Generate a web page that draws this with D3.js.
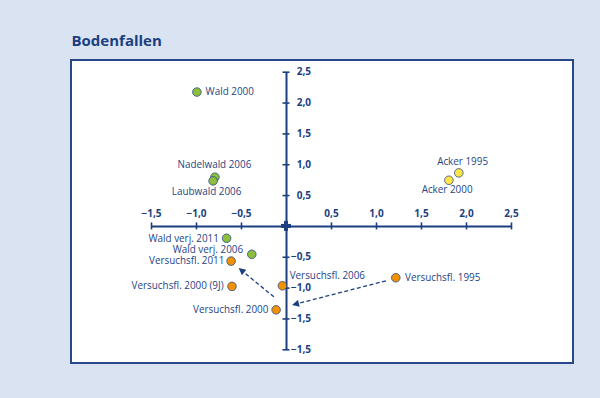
<!DOCTYPE html>
<html><head><meta charset="utf-8">
<script src="https://cdn.jsdelivr.net/npm/d3@7"></script>
<style>
html,body{margin:0;padding:0;background:#dae3f1;}
svg{display:block;}
</style></head>
<body>
<svg id="c" width="600" height="398"></svg>
<script>
// ---- data ----
const names = ["Wald 2000","Nadelwald 2006","Laubwald 2006","Acker 1995","Acker 2000",
  "Wald verj. 2011","Wald verj. 2006","Versuchsfl. 2011","Versuchsfl. 2000 (9J)",
  "Versuchsfl. 2006","Versuchsfl. 2000","Versuchsfl. 1995"];
const xVals = [-0.99,-0.79,-0.81,1.92,1.81,-0.66,-0.38,-0.61,-0.60,-0.04,-0.11,1.22];
const yVals = [2.17,0.79,0.73,0.86,0.74,-0.20,-0.46,-0.57,-0.98,-0.97,-1.36,-0.84];
const groups = ["Wald","Wald","Wald","Acker","Acker","Wald","Wald","Versuchsfl","Versuchsfl","Versuchsfl","Versuchsfl","Versuchsfl"];
const xTickValues = [-1.5,-1,-0.5,0.5,1,1.5,2,2.5];
const xTickLabels = ["−1,5","−1,0","−0,5","0,5","1,0","1,5","2,0","2,5"];
const yTickValues = [2.5,2,1.5,1,0.5,-0.5,-1,-1.5,-2];
const yTickLabels = ["2,5","2,0","1,5","1,0","0,5","−0,5","−1,0","−1,5","−1,5"];
const arrowFrom = [[1.11,-0.89],[-0.135,-1.15]];
const arrowTo = [[0.075,-1.28],[-0.52,-0.69]];

// ---- styling / placement ----
const colors = {Wald:"#8dbf3c", Acker:"#ffe545", Versuchsfl:"#f39200"};
const labelPos = [
  ["start",8.7,3.3],["middle",-0.5,-9],["middle",-6.5,14],["middle",3.8,-7.7],["middle",-1.8,12.7],
  ["end",-7.7,3.4],["end",-8.7,-1],["end",-6.7,3.3],["end",-8.4,3],
  ["start",7.3,-6.8],["end",-7.7,3.3],["start",9.3,3]
];
const navy = "#1b3f7f";
const textCol = "#1f4485";
const font = "'Open Sans', sans-serif";

const svg = d3.select("#c");
svg.append("rect").attr("width",600).attr("height",398).attr("fill","#dae3f1");
svg.append("text").attr("x",71.5).attr("y",45.5).attr("font-family",font).attr("font-weight",700)
  .attr("font-size",15).attr("fill",navy).text("Bodenfallen");
svg.append("rect").attr("x",71).attr("y",60).attr("width",502).attr("height",303)
  .attr("fill","#fff").attr("stroke","#27478a").attr("stroke-width",2);

const x = d3.scaleLinear().domain([-1.5,2.5]).range([151,511]);
const y = d3.scaleLinear().domain([-2,2.5]).range([349.3,71.7]);
const x0 = x(0), y0 = y(0);

// x axis
const xa = svg.append("g").attr("transform",`translate(0,${y0})`)
  .call(d3.axisTop(x).tickValues(xTickValues).tickFormat((d,i)=>xTickLabels[i]).tickSizeOuter(0).tickSizeInner(3.5).tickPadding(5.5));
xa.select(".domain").attr("stroke",navy).attr("stroke-width",2);
xa.selectAll(".tick line").attr("stroke",navy).attr("stroke-width",1.6).attr("y1",-3.5).attr("y2",3.5);
xa.selectAll(".tick text").attr("fill",navy).attr("font-family",font).attr("font-weight",700).attr("font-size",10);

// y axis
const ya = svg.append("g").attr("transform",`translate(${x0},0)`)
  .call(d3.axisRight(y).tickValues(yTickValues).tickFormat((d,i)=>yTickLabels[i]).tickSizeOuter(0).tickSizeInner(3.5));
ya.select(".domain").attr("stroke",navy).attr("stroke-width",2);
ya.selectAll(".tick line").attr("stroke",navy).attr("stroke-width",1.6).attr("x1",-3.5).attr("x2",3.5);
ya.selectAll(".tick text").attr("fill",navy).attr("font-family",font).attr("font-weight",700).attr("font-size",10)
  .attr("text-anchor","end").attr("x",25);

// origin cross
svg.append("line").attr("x1",x0-5).attr("x2",x0+5).attr("y1",y0).attr("y2",y0).attr("stroke",navy).attr("stroke-width",4);
svg.append("line").attr("x1",x0).attr("x2",x0).attr("y1",y0-5).attr("y2",y0+5).attr("stroke",navy).attr("stroke-width",4);

// arrows
const defs = svg.append("defs");
defs.append("marker").attr("id","ah").attr("viewBox","0 0 10 10").attr("refX",9).attr("refY",5)
  .attr("markerWidth",11).attr("markerHeight",7).attr("markerUnits","userSpaceOnUse").attr("orient","auto")
  .append("path").attr("d","M0,0 L10,5 L0,10 Z").attr("fill",navy);
arrowFrom.forEach((f,i)=>{
  svg.append("line").attr("x1",x(f[0])).attr("y1",y(f[1])).attr("x2",x(arrowTo[i][0])).attr("y2",y(arrowTo[i][1]))
    .attr("stroke",navy).attr("stroke-width",1.3).attr("stroke-dasharray","4,2.5").attr("marker-end","url(#ah)");
});

// points
names.forEach((n,i)=>{
  svg.append("circle").attr("cx",x(xVals[i])).attr("cy",y(yVals[i])).attr("r",4.3)
    .attr("fill",colors[groups[i]]).attr("stroke","#2b4a8a").attr("stroke-width",0.8);
});
names.forEach((n,i)=>{
  const p = labelPos[i];
  svg.append("text").attr("x",x(xVals[i])+p[1]).attr("y",y(yVals[i])+p[2])
    .attr("text-anchor",p[0]).attr("font-family",font).attr("font-size",9.9).attr("fill",textCol).text(n);
});
</script>
</body></html>
